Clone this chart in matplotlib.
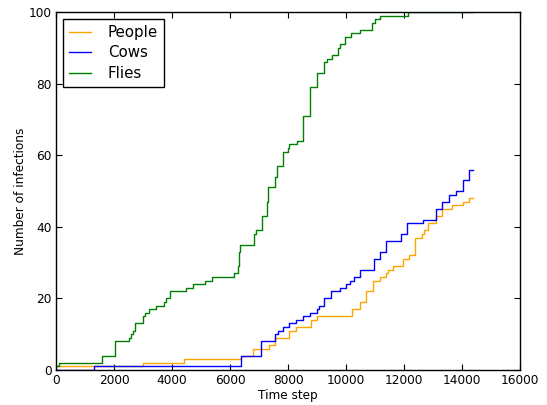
import matplotlib
matplotlib.use("Agg")
import matplotlib.pyplot as plt

# --- data ---
people_t = [0, 2990, 4430, 6380, 6810, 7350, 7550, 8020, 8280, 8790, 9000,
            10210, 10470, 10700, 10925, 11160, 11390, 11450, 11625, 11950,
            12170, 12375, 12630, 12700, 12840, 13100, 13320, 13650, 14050,
            14250, 14390]
people_v = [1, 2, 3, 4, 6, 7, 9, 11, 12, 14, 15,
            17, 19, 22, 25, 26, 27, 28, 29, 31,
            32, 37, 38, 39, 41, 43, 45, 46, 47,
            48, 48]

cows_t = [0, 1300, 6380, 7065, 7560, 7650, 7815, 8045, 8277, 8508, 8773,
          9004, 9085, 9236, 9489, 9777, 10008, 10150, 10290, 10480, 10966,
          11160, 11394, 11890, 12087, 12663, 13090, 13300, 13560, 13790,
          14020, 14250, 14390]
cows_v = [0, 1, 4, 8, 10, 11, 12, 13, 14, 15, 16,
          17, 18, 20, 22, 23, 24, 25, 26, 28, 31,
          33, 36, 38, 41, 42, 45, 47, 49, 50,
          53, 56, 56]

flies_t = [0, 100, 1580, 2040, 2530, 2590, 2640, 2740, 2990, 3060, 3220,
           3460, 3730, 3790, 3925, 4470, 4730, 5125, 5390, 6140, 6280, 6320,
           6360, 6812, 6903, 7110, 7270, 7300, 7560, 7610, 7815, 8012, 8050,
           8300, 8520, 8762, 8990, 9257, 9350, 9513, 9721, 9810, 9974, 10182,
           10494, 10900, 10990, 11160, 12144, 14390]
flies_v = [1, 2, 4, 8, 9, 10, 11, 13, 15, 16, 17,
           18, 19, 20, 22, 23, 24, 25, 26, 27, 29, 33,
           35, 38, 39, 43, 47, 51, 54, 57, 61, 62, 63,
           64, 71, 79, 83, 86, 87, 88, 90, 91, 93, 94,
           95, 97, 98, 99, 100, 100]

plt.rcParams['font.family'] = ['DejaVu Sans']
plt.rcParams['font.size'] = 8.7

fig = plt.figure(figsize=(5.47, 4.05), dpi=100)
ax = fig.add_axes([56 / 547, 35 / 405, 464 / 547, 358 / 405])

ax.plot(people_t, people_v, drawstyle='steps-post', color='orange', lw=1.0, label='People')
ax.plot(cows_t, cows_v, drawstyle='steps-post', color='blue', lw=1.0, label='Cows')
ax.plot(flies_t, flies_v, drawstyle='steps-post', color='green', lw=1.0, label='Flies')

ax.set_xlim(0, 16000)
ax.set_ylim(0, 100)
ax.set_xticks(range(0, 16001, 2000))
ax.set_yticks(range(0, 101, 20))
ax.tick_params(direction='in', top=True, right=True, length=4, width=0.8, pad=3)
for s in ax.spines.values():
    s.set_linewidth(1.0)

ax.set_xlabel('Time step', labelpad=1)
ax.set_ylabel('Number of infections', labelpad=1)

leg = ax.legend(loc='upper left', fontsize=10.8, fancybox=False, framealpha=1,
                edgecolor='black', handlelength=1.5, handletextpad=1.1,
                labelspacing=0.38, borderpad=0.4, borderaxespad=0.45)
leg.get_frame().set_linewidth(1.0)

fig.savefig('out.png', dpi=100)
